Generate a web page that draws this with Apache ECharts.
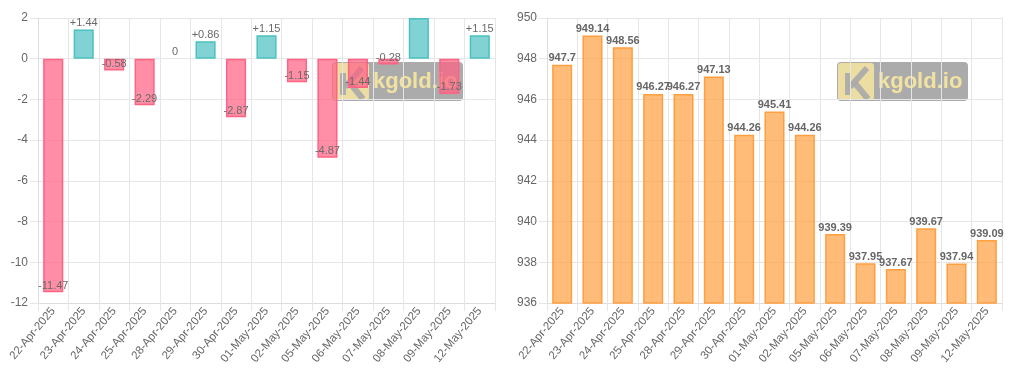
<!DOCTYPE html>
<html>
<head>
<meta charset="utf-8">
<script src="https://cdn.jsdelivr.net/npm/echarts@6/dist/echarts.min.js"></script>
<style>
  html, body { margin: 0; padding: 0; background: #fff; }
  #main { width: 1024px; height: 375px; }
</style>
</head>
<body>
<div id="main"></div>
<script>
// dates shared by both charts
const categories = ['22-Apr-2025', '23-Apr-2025', '24-Apr-2025', '25-Apr-2025', '28-Apr-2025',
  '29-Apr-2025', '30-Apr-2025', '01-May-2025', '02-May-2025', '05-May-2025', '06-May-2025',
  '07-May-2025', '08-May-2025', '09-May-2025', '12-May-2025'];

// day-over-day change (left)
const deltaValues = [-11.47, 1.44, -0.58, -2.29, 0, 0.86, -2.87, 1.15, -1.15, -4.87, -1.44, -0.28, 2.00, -1.73, 1.15];
const deltaMin = -12, deltaMax = 2;

// price (right)
const priceValues = [947.7, 949.14, 948.56, 946.27, 946.27, 947.13, 944.26, 945.41, 944.26, 939.39, 937.95, 937.67, 939.67, 937.94, 939.09];
const priceMin = 936, priceMax = 950;

const gridColor = '#e6e6e6';
const textColor = '#666';

let myChart = echarts.init(document.getElementById('main'), null, { renderer: 'canvas' });

const xAxisFor = (idx) => ({
  type: 'category',
  gridIndex: idx,
  data: categories,
  axisLine: { onZero: false, lineStyle: { color: '#ddd' } },
  axisTick: { show: true, length: 8, lineStyle: { color: gridColor } },
  splitLine: { show: true, lineStyle: { color: gridColor } },
  axisLabel: { interval: 0, rotate: 50, fontSize: 11.5, color: textColor, margin: 6 }
});

const yAxisFor = (idx, min, max) => ({
  type: 'value',
  gridIndex: idx,
  min: min,
  max: max,
  interval: 2,
  axisLine: { show: true, lineStyle: { color: '#ddd' } },
  axisTick: { show: true, length: 8, lineStyle: { color: gridColor } },
  splitLine: { show: true, lineStyle: { color: gridColor } },
  axisLabel: { fontSize: 12, color: textColor, margin: 10 }
});

// watermark box "kgold.io" (semi transparent, like the site logo)
const watermark = (left) => ({
  type: 'group',
  x: left,
  y: 62,
  z: 100,
  children: [
    { type: 'rect', shape: { x: 0, y: 0, width: 131, height: 39, r: 4 }, style: { fill: 'rgba(115,115,115,0.6)' } },
    { type: 'rect', shape: { x: 1, y: 1, width: 36, height: 37, r: 3 }, style: { fill: '#f8e8a2', opacity: 0.85 } },
    { type: 'rect', shape: { x: 8, y: 11, width: 6, height: 22 }, style: { fill: '#a8a8a8', opacity: 0.9 } },
    { type: 'polyline', shape: { points: [[13, 25], [30, 6]] }, style: { stroke: '#a8a8a8', lineWidth: 6, opacity: 0.9 } },
    { type: 'polyline', shape: { points: [[17, 20], [31, 37]] }, style: { stroke: '#a8a8a8', lineWidth: 6, opacity: 0.9 } },
    { type: 'text', x: 41, y: 20, style: { text: 'kgold.io', fill: '#f7e6a0', opacity: 0.95, font: 'bold 22px "Liberation Sans", Arial, sans-serif', verticalAlign: 'middle' } }
  ]
});

const deltaStyle = (v) => {
  if (v < 0) return { color: 'rgba(255,99,132,0.72)', borderColor: '#ff6384', borderWidth: 1.5 };
  if (v > 0) return { color: 'rgba(75,192,192,0.7)', borderColor: '#4bc0c0', borderWidth: 1.5 };
  return { color: 'rgba(75,192,192,0.7)', borderWidth: 0 };
};

myChart.setOption({
  animation: false,
  textStyle: { fontFamily: '"Liberation Sans", Arial, Helvetica, sans-serif' },
  grid: [
    { left: 38, top: 18, width: 457, height: 285 },
    { left: 547, top: 18, width: 455, height: 285 }
  ],
  xAxis: [xAxisFor(0), xAxisFor(1)],
  yAxis: [yAxisFor(0, deltaMin, deltaMax), yAxisFor(1, priceMin, priceMax)],
  series: [
    {
      name: 'Change',
      type: 'bar',
      xAxisIndex: 0,
      yAxisIndex: 0,
      barWidth: '66%',
      data: deltaValues.map(v => ({
        value: v,
        itemStyle: deltaStyle(v),
        label: {
          show: v < deltaMax,
          position: v < 0 ? 'insideBottom' : 'top',
          distance: v < 0 ? 1 : 1
        }
      })),
      label: {
        fontSize: 11,
        color: '#6a6a6a',
        formatter: (p) => (p.value > 0 ? '+' + p.value : '' + p.value)
      }
    },
    {
      name: 'Price',
      type: 'bar',
      xAxisIndex: 1,
      yAxisIndex: 1,
      barWidth: '66%',
      itemStyle: { color: 'rgba(255,159,64,0.7)', borderColor: '#ff9f40', borderWidth: 1.5 },
      data: priceValues,
      label: {
        show: true,
        position: 'top',
        distance: 1,
        fontSize: 11,
        fontWeight: 'bold',
        color: '#666'
      }
    }
  ],
  graphic: [watermark(332), watermark(837)]
});

window.addEventListener('resize', () => {
  myChart.resize();
});
</script>
</body>
</html>
